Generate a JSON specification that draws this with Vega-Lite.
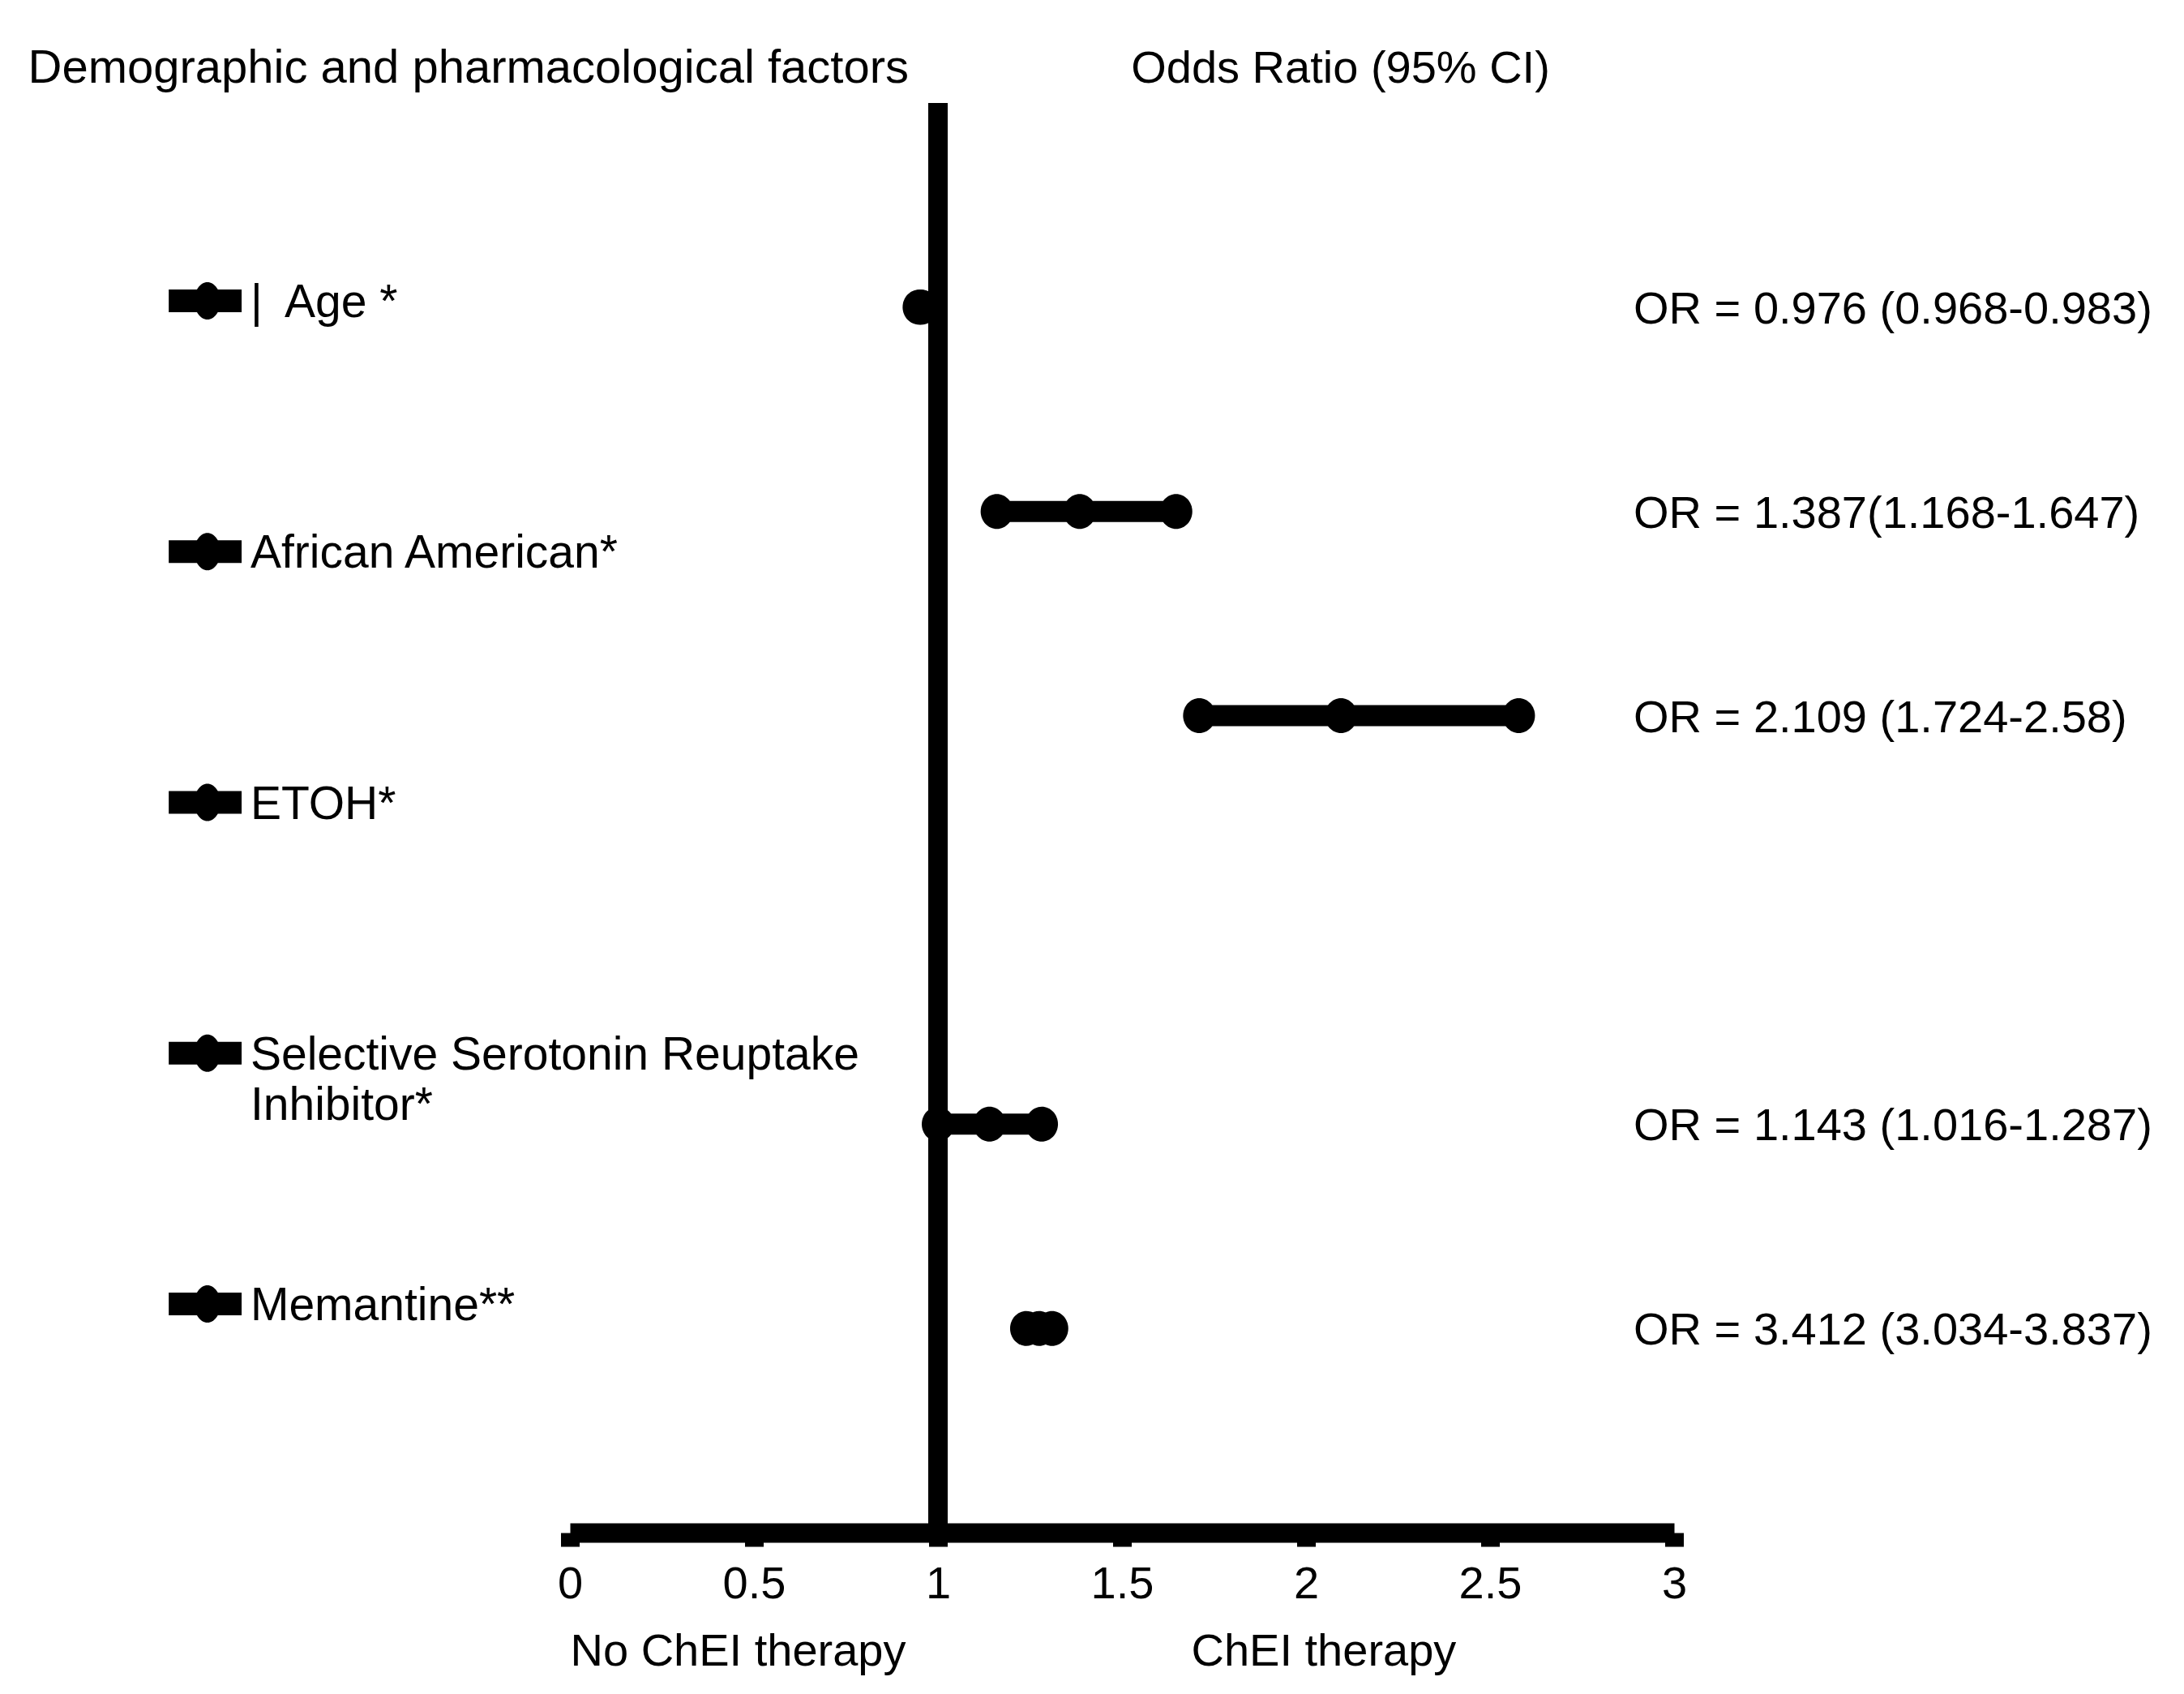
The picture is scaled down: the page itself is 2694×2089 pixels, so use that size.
{
  "$schema": "https://vega.github.io/schema/vega-lite/v6.json",
  "width": 1362,
  "height": 1763,
  "autosize": {"type": "none"},
  "padding": {"left": 703, "top": 127, "right": 629, "bottom": 199},
  "background": "white",
  "config": {
    "view": {"stroke": null},
    "font": "Liberation Sans",
    "axis": {"labelFont": "Liberation Sans", "titleFont": "Liberation Sans", "titleFontWeight": "normal", "titleColor": "black", "labelColor": "black", "grid": false}
  },
  "datasets": {
    "factors": [
      {"factor": "Age", "label": "| \u2009Age *", "lo": 0.948, "or": 0.952, "hi": 0.956, "or_text": "OR = 0.976 (0.968-0.983)"},
      {"factor": "African American", "label": "African American*", "lo": 1.16, "or": 1.385, "hi": 1.647, "or_text": "OR = 1.387(1.168-1.647)"},
      {"factor": "ETOH", "label": "ETOH*", "lo": 1.71, "or": 2.095, "hi": 2.578, "or_text": "OR = 2.109 (1.724-2.58)"},
      {"factor": "SSRI", "label": "Selective Serotonin Reuptake\nInhibitor*", "lo": 1.0, "or": 1.14, "hi": 1.282, "or_text": "OR = 1.143 (1.016-1.287)"},
      {"factor": "Memantine", "label": "Memantine**", "lo": 1.24, "or": 1.275, "hi": 1.31, "or_text": "OR = 3.412 (3.034-3.837)"}
    ]
  },
  "layer": [
    {
      "layer": [
        {
          "data": {"values": [{}]},
          "mark": {"type": "rule", "color": "black", "strokeWidth": 24, "strokeCap": "butt"},
          "encoding": {
            "x": {"datum": 1, "type": "quantitative", "scale": {"domain": [0, 3], "nice": false, "zero": false}}
          }
        },
        {
          "data": {"name": "factors"},
          "mark": {"type": "rule", "color": "black", "strokeWidth": 26, "strokeCap": "butt"},
          "encoding": {
            "x": {
              "field": "lo", "type": "quantitative",
              "scale": {"domain": [0, 3], "nice": false, "zero": false},
              "axis": {
                "orient": "bottom", "values": [0, 0.5, 1, 1.5, 2, 2.5, 3], "format": "~g",
                "domain": true, "domainColor": "black", "domainWidth": 24, "domainCap": "butt",
                "ticks": true, "tickColor": "black", "tickWidth": 23, "tickSize": 17, "tickCap": "butt",
                "labelFontSize": 56, "labelPadding": 19, "labelBaseline": "top", "labelFlush": false,
                "title": "No ChEI therapy", "titleFontSize": 56, "titleX": 0, "titleY": 163,
                "titleAlign": "left", "titleAnchor": "start", "titleBaseline": "alphabetic"
              }
            },
            "x2": {"field": "hi"},
            "y": {
              "field": "factor", "type": "nominal",
              "scale": {"type": "point", "domain": ["Age", "African American", "ETOH", "_", "SSRI", "Memantine"], "padding": 1.012, "align": 0.5},
              "axis": {
                "orient": "left", "domain": false, "ticks": false, "labels": false,
                "title": "Demographic and pharmacological factors", "titleFontSize": 58, "titleAngle": 0,
                "titleX": -669, "titleY": -26, "titleAlign": "left", "titleAnchor": "start", "titleBaseline": "alphabetic"
              }
            }
          }
        },
        {
          "data": {"name": "factors"},
          "transform": [{"fold": ["lo", "or", "hi"], "as": ["stat", "value"]}],
          "mark": {"type": "point", "filled": true, "color": "black", "opacity": 1, "size": 1849, "shape": "M0,-1A0.93,1 0 1,1 0,1A0.93,1 0 1,1 0,-1Z"},
          "encoding": {
            "x": {"field": "value", "type": "quantitative", "scale": {"domain": [0, 3], "nice": false, "zero": false}},
            "y": {"field": "factor", "type": "nominal", "scale": {"type": "point", "domain": ["Age", "African American", "ETOH", "_", "SSRI", "Memantine"], "padding": 1.012, "align": 0.5}}
          }
        }
      ]
    },
    {
      "data": {"name": "factors"},
      "mark": {"type": "text", "align": "left", "baseline": "alphabetic", "dy": 20, "fontSize": 56, "color": "black", "font": "Liberation Sans"},
      "encoding": {
        "x": {
          "datum": 2.89, "type": "quantitative",
          "scale": {"domain": [0, 3], "nice": false, "zero": false},
          "axis": {
            "orient": "bottom", "domain": false, "ticks": false, "labels": false,
            "title": "ChEI therapy", "titleFontSize": 56, "titleX": 766, "titleY": 163,
            "titleAlign": "left", "titleAnchor": "start", "titleBaseline": "alphabetic"
          }
        },
        "y": {
          "field": "factor", "type": "nominal",
          "scale": {"type": "point", "domain": ["Age", "African American", "ETOH", "_", "SSRI", "Memantine"], "padding": 1.012, "align": 0.5},
          "axis": null
        },
        "text": {"field": "or_text"}
      }
    },
    {
      "data": {"name": "factors"},
      "encoding": {
        "y": {
          "field": "factor", "type": "nominal",
          "scale": {"type": "point", "domain": ["Age", "African American", "ETOH", "SSRI", "Memantine"], "padding": 0.8505, "align": 0.4639},
          "axis": null
        }
      },
      "layer": [
        {
          "mark": {"type": "rule", "color": "black", "strokeWidth": 28, "strokeCap": "butt"},
          "encoding": {
            "x": {
              "datum": -1.09, "type": "quantitative",
              "scale": {"domain": [0, 3], "nice": false, "zero": false},
              "axis": {
                "orient": "top", "domain": false, "ticks": false, "labels": false,
                "title": "Odds Ratio (95% CI)", "titleFontSize": 56, "titleX": 950, "titleY": -26,
                "titleAlign": "center", "titleBaseline": "alphabetic"
              }
            },
            "x2": {"datum": -0.892}
          }
        },
        {
          "mark": {"type": "point", "filled": true, "color": "black", "opacity": 1, "size": 2116, "shape": "M0,-1A0.7,1 0 1,1 0,1A0.7,1 0 1,1 0,-1Z"},
          "encoding": {
            "x": {"datum": -0.985, "type": "quantitative", "scale": {"domain": [0, 3], "nice": false, "zero": false}}
          }
        },
        {
          "mark": {"type": "text", "align": "left", "baseline": "alphabetic", "dy": 20, "fontSize": 57, "lineBreak": "\n", "lineHeight": 62, "color": "black", "font": "Liberation Sans"},
          "encoding": {
            "x": {"datum": -0.868, "type": "quantitative", "scale": {"domain": [0, 3], "nice": false, "zero": false}},
            "text": {"field": "label"}
          }
        }
      ]
    }
  ],
  "resolve": {"scale": {"x": "independent", "y": "independent"}, "axis": {"x": "independent", "y": "independent"}}
}
